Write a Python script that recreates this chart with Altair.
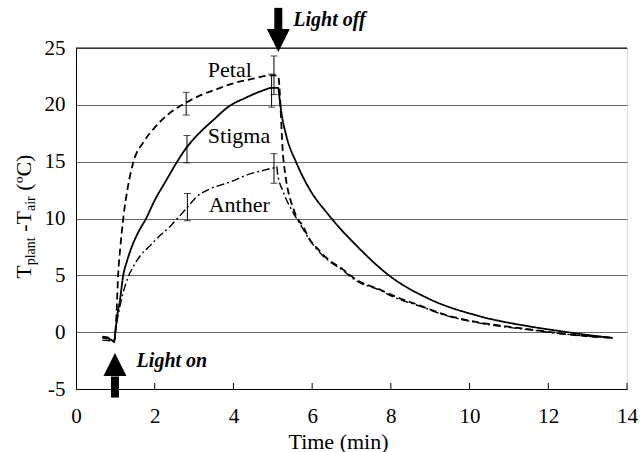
import altair as alt
import pandas as pd

# ---------------- data ----------------
stigma_t = [0.67, 0.85, 0.97, 1.00, 1.05, 1.12, 1.20, 1.30, 1.45, 1.60, 1.78, 2.00, 2.30, 2.57, 2.80,
            3.10, 3.50, 3.90, 4.30, 4.70, 5.00, 5.14, 5.16, 5.22, 5.35, 5.60, 5.94, 6.41, 7.13,
            7.97, 8.99, 10.26, 11.53, 12.29, 13.00, 13.64]
stigma_y = [-0.5, -0.6, -0.8, 0.0, 1.5, 2.9, 5.0, 6.3, 7.8, 8.9, 10.0, 11.6, 13.4, 15.0, 16.2,
            17.4, 18.7, 19.9, 20.6, 21.2, 21.5, 21.5, 20.9, 19.3, 17.2, 14.9, 12.55, 10.35, 7.6,
            4.95, 2.9, 1.4, 0.5, 0.1, -0.25, -0.5]

petal_t = [0.67, 0.85, 0.97, 1.00, 1.03, 1.07, 1.13, 1.20, 1.32, 1.46, 1.71, 2.00, 2.39, 2.80,
           3.20, 3.60, 3.91, 4.50, 5.00, 5.12, 5.14, 5.27, 5.56, 5.77, 5.94, 6.15, 6.28, 6.79,
           7.13, 7.72, 8.00, 8.73, 9.41, 10.26, 11.53, 12.80, 13.64]
petal_y = [-0.4, -0.5, -0.8, 0.0, 1.7, 5.0, 7.6, 10.0, 12.8, 15.0, 16.7, 18.0, 19.3, 20.2,
           20.9, 21.4, 21.8, 22.3, 22.6, 22.6, 22.5, 15.2, 10.5, 9.3, 8.15, 7.3, 6.8, 5.5,
           4.6, 3.75, 3.3, 2.35, 1.5, 0.85, 0.25, -0.3, -0.5]

anther_t = [0.67, 0.85, 0.97, 1.00, 1.10, 1.20, 1.32, 1.46, 1.65, 1.88, 2.10, 2.39, 2.60, 2.81,
            3.06, 3.40, 3.91, 4.40, 4.84, 5.05, 5.10, 5.12, 5.27, 5.52, 5.73, 5.94, 6.28, 6.79,
            7.13, 7.72, 8.00, 8.73, 9.41, 10.26, 11.53, 12.80, 13.64]
anther_y = [-0.7, -0.75, -0.9, 0.0, 2.0, 3.5, 4.8, 5.8, 6.8, 7.6, 8.4, 9.3, 10.1, 10.9,
            11.9, 12.6, 13.2, 13.9, 14.3, 14.5, 14.6, 14.0, 12.3, 10.5, 9.3, 8.1, 6.7, 5.4,
            4.5, 3.7, 3.2, 2.3, 1.45, 0.8, 0.2, -0.3, -0.5]

eb_series = ["Petal", "Stigma", "Anther", "Petal", "Stigma", "Anther"]
eb_t = [2.80, 2.82, 2.83, 5.03, 4.97, 5.03]
eb_lo = [19.1, 14.9, 9.8, 20.9, 19.8, 13.1]
eb_hi = [21.1, 17.3, 12.2, 24.3, 22.7, 15.7]

label_text = ["Petal", "Stigma", "Anther"]
label_x = [3.35, 3.35, 3.37]
label_y = [22.49, 16.68, 10.53]

ann_text = ["Light off", "Light on"]
ann_x = [5.52, 1.54]
ann_y = [26.93, -3.08]
arrow_x = [5.14, 0.99]
shaft_a = [28.53, -3.9]
shaft_b = [26.6, -5.75]
head_y = [25.67, -2.84]

x_ticks = [0, 2, 4, 6, 8, 10, 12, 14]
y_ticks = [-5, 0, 5, 10, 15, 20, 25]

FONT = "Liberation Serif"
W, H = 551, 341

xs = alt.Scale(domain=[0, 14], nice=False, zero=False)
ys = alt.Scale(domain=[-5, 25], nice=False, zero=False)

x_axis = alt.Axis(values=x_ticks, ticks=False, grid=False, domainColor="black",
                  labelFont=FONT, labelFontSize=21, labelColor="black", labelPadding=16,
                  labelFlush=False, labelOverlap=False, labelExpr="'' + datum.value",
                  title="Time (min)", titleFont=FONT, titleFontSize=22, titleFontWeight="normal",
                  titleColor="black", titleX=262, titleY=59, titleBaseline="alphabetic",
                  titleAlign="center", titleAnchor="start")
y_axis = alt.Axis(values=y_ticks, ticks=False, grid=True, gridColor="#666666", gridWidth=1,
                  domainColor="black", labelFont=FONT, labelFontSize=21, labelColor="black",
                  labelPadding=11, labelFlush=False, labelOverlap=False,
                  labelExpr="'' + datum.value", title="")


def X(field):
    return alt.X(field, scale=xs, axis=x_axis)


def Y(field):
    return alt.Y(field, scale=ys, axis=y_axis)


def series_df(t, y):
    return pd.DataFrame({"t": t, "v": y, "i": range(len(t))})


def line_layer(t, y, dash, width):
    return alt.Chart(series_df(t, y)).mark_line(
        color="black", strokeWidth=width, strokeDash=dash, strokeCap="butt",
        interpolate="monotone"
    ).encode(x=X("t:Q"), y=Y("v:Q"), order="i:Q")


stigma = line_layer(stigma_t, stigma_y, [1, 0], 1.8)
petal = line_layer(petal_t, petal_y, [7, 4], 1.8)
anther = line_layer(anther_t, anther_y, [8, 3, 2, 3], 1.4)

eb_df = pd.DataFrame({"s": eb_series, "t": eb_t, "lo": eb_lo, "hi": eb_hi})
eb_rule = alt.Chart(eb_df).mark_rule(color="black", strokeWidth=1).encode(
    x=X("t:Q"), y=Y("lo:Q"), y2="hi:Q")
cap_df = pd.DataFrame({"t": eb_t + eb_t, "v": eb_lo + eb_hi})
eb_caps = alt.Chart(cap_df).mark_tick(color="black", orient="horizontal", size=7, thickness=1).encode(
    x=X("t:Q"), y=Y("v:Q"))

lab_df = pd.DataFrame({"txt": label_text, "t": label_x, "v": label_y})
labels = alt.Chart(lab_df).mark_text(font=FONT, fontSize=22, align="left", baseline="alphabetic",
                                     color="black").encode(x=X("t:Q"), y=Y("v:Q"), text="txt:N")

ann_df = pd.DataFrame({"txt": ann_text, "t": ann_x, "v": ann_y})
ann = alt.Chart(ann_df).mark_text(font=FONT, fontSize=20, fontStyle="italic", fontWeight="bold",
                                  align="left", baseline="alphabetic", color="black").encode(
    x=X("t:Q"), y=Y("v:Q"), text="txt:N")

arr_df = pd.DataFrame({"t": arrow_x, "a": shaft_a, "b": shaft_b, "h": head_y,
                       "k": ["down", "up"]})
shafts = alt.Chart(arr_df).mark_rule(color="black", strokeWidth=8, strokeCap="butt").encode(
    x=X("t:Q"), y=Y("a:Q"), y2="b:Q")
head_down = alt.Chart(arr_df[arr_df.k == "down"]).mark_point(
    shape="M-1,-1L1,-1L0,1Z", filled=True, size=529, color="black", opacity=1).encode(
    x=X("t:Q"), y=Y("h:Q"))
head_up = alt.Chart(arr_df[arr_df.k == "up"]).mark_point(
    shape="M-1,1L1,1L0,-1Z", filled=True, size=529, color="black", opacity=1).encode(
    x=X("t:Q"), y=Y("h:Q"))

tick_df = pd.DataFrame({"t": x_ticks[1:]})
xticks = alt.Chart(tick_df).mark_rule(color="black", strokeWidth=1).encode(
    x=X("t:Q"), y=alt.value(H), y2=alt.value(H - 6))

top_border = alt.Chart(pd.DataFrame({"v": [25]})).mark_rule(color="black", strokeWidth=1).encode(
    y=Y("v:Q"), x=alt.value(0), x2=alt.value(W))

# y-axis title pieces (T_plant -T_air (ºC)), rotated
yt_text = ["T", "plant", "-T", "air", "(ºC)"]
yt_size = [22, 14, 22, 14, 22]
yt_base = [-45, -41, -45, -41, -45]
yt_start = [230.7, 217.3, 183.8, 163.0, 142.7]
ytitle = []
for txt, sz, bx, st in zip(yt_text, yt_size, yt_base, yt_start):
    ytitle.append(alt.Chart(pd.DataFrame({"txt": [txt]})).mark_text(
        font=FONT, fontSize=sz, angle=270, align="left", baseline="alphabetic", color="black"
    ).encode(x=alt.value(bx), y=alt.value(st), text="txt:N"))

chart = alt.layer(top_border, stigma, xticks, petal, anther, eb_rule, eb_caps, labels, ann,
                  shafts, head_down, head_up, *ytitle).properties(
    width=W, height=H,
    autosize=alt.AutoSizeParams(type="none"),
    padding={"left": 76, "top": 48, "right": 16, "bottom": 63},
).configure_view(stroke="black", strokeWidth=1).configure(background="white")

chart.save("out.html", embed_options={"renderer": "svg", "actions": False})
